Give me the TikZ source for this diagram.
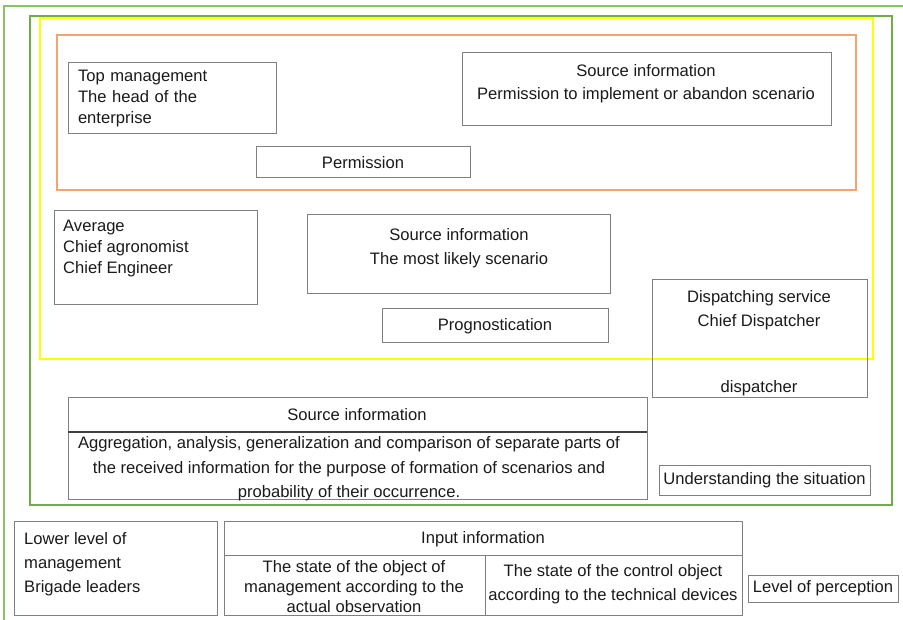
\documentclass[tikz,border=0pt]{standalone}
\usepackage{fontspec}
\setmainfont{Liberation Sans}
\usetikzlibrary{positioning}
\definecolor{outergreen}{HTML}{8CC266}
\definecolor{framegreen}{HTML}{70AD47}
\definecolor{frameyellow}{HTML}{FFFF00}
\definecolor{frameorange}{HTML}{F4A46E}
\definecolor{boxgray}{HTML}{808080}
\definecolor{inkgray}{HTML}{1A1A1A}

\begin{document}
\begin{tikzpicture}[x=1pt,y=-1pt,
  box/.style={draw=boxgray,line width=1pt,inner sep=0pt,text=inkgray,font=\fontsize{16.6}{21}\selectfont},
  txt/.style={inner sep=0pt,text=inkgray,font=\fontsize{16.6}{24}\selectfont}]
  \useasboundingbox (0,0) rectangle (903,620);
  % frames
  \draw[outergreen,line width=1.5pt] (903,6) -- (4,6) -- (4,620);
  \draw[framegreen,line width=2pt] (30,16) rectangle (892,505);
  \draw[frameyellow,line width=1.5pt] (40,18) rectangle (873,359);
  \draw[frameorange,line width=1.3pt] (57,35) rectangle (856,190);
  % upper level
  \node[box,minimum width=208pt,minimum height=71pt,text width=188pt,align=left] (topmgmt) at (172,98.5) {Top management\\The head of the\\enterprise};
  \node[box,minimum width=214pt,minimum height=31pt] (permission) at (363,162.5) {Permission};
  \node[box,minimum width=369pt,minimum height=73pt] (srctop) at (646.5,89.5) {};
  \node[txt,align=center,font=\fontsize{16.6}{23}\selectfont] (srctoptext) at (646,83.5) {Source information\\Permission to implement or abandon scenario};
  % middle level
  \node[box,minimum width=203pt,minimum height=94pt] (average) at (155.5,258) {};
  \node[txt,anchor=west,align=left,font=\fontsize{16.6}{21}\selectfont] (averagetext) at (63,249) {Average\\Chief agronomist\\Chief Engineer};
  \node[box,minimum width=303pt,minimum height=79pt] (srcmid) at (458.5,254.5) {};
  \node[txt,align=center] (srcmidtext) at (459,248) {Source information\\The most likely scenario};
  \node[box,minimum width=226pt,minimum height=34pt] (prog) at (495,326) {Prognostication};
  \node[box,minimum width=215pt,minimum height=118pt] (dispatch) at (759.5,339) {};
  \node[txt,align=center] (dispatchtext) at (759,310) {Dispatching service\\Chief Dispatcher};
  \node[txt] (dispatcher) at (759,388) {dispatcher};
  % understanding the situation
  \node[box,minimum width=579pt,minimum height=101pt] (srcbot) at (357.5,448.5) {};
  \coordinate (srcbotl) at (68,432);
  \coordinate (srcbotr) at (647,432);
  \draw[black!75,line width=1.8pt] (srcbotl) -- (srcbotr);
  \node[txt] (srcbothead) at (357,415) {Source information};
  \node[txt,align=center,font=\fontsize{16.6}{24.5}\selectfont] (srcbottext) at (349,469) {Aggregation, analysis, generalization and comparison of separate parts of\\the received information for the purpose of formation of scenarios and\\probability of their occurrence.};
  \node[box,minimum width=211pt,minimum height=30pt] (understand) at (764.5,480) {Understanding the situation};
  % lower level
  \node[box,minimum width=203pt,minimum height=94pt] (lower) at (115.5,568) {};
  \node[txt,anchor=west,align=left] (lowertext) at (24,564) {Lower level of\\management\\Brigade leaders};
  \node[box,minimum width=518pt,minimum height=94pt] (input) at (483,568) {};
  \coordinate (inputl) at (224,555);
  \coordinate (inputr) at (742,555);
  \coordinate (inputm) at (485,555);
  \draw[boxgray,line width=1pt] (inputl) -- (inputr);
  \draw[boxgray,line width=1pt] (inputm) -- (input.south -| inputm);
  \node[txt] (inputhead) at (483,539.5) {Input information};
  \node[txt,align=center,font=\fontsize{16.6}{20}\selectfont] (observation) at (354,587) {The state of the object of\\management according to the\\actual observation};
  \node[txt,align=center] (devices) at (613,584) {The state of the control object\\according to the technical devices};
  \node[box,minimum width=150pt,minimum height=27pt] (perception) at (823,588.5) {Level of perception};
\end{tikzpicture}
\end{document}
